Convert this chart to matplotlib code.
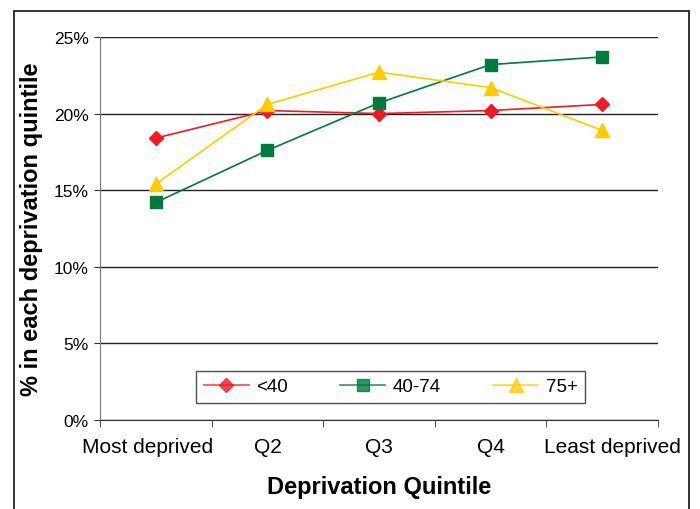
import matplotlib
matplotlib.use('Agg')
import matplotlib.pyplot as plt
import matplotlib.transforms as mtransforms
from matplotlib.patches import Rectangle
from matplotlib.ticker import FuncFormatter, FixedLocator

plt.rcParams['font.family'] = ['Liberation Sans', 'DejaVu Sans']

quintiles = ['Most deprived', 'Q2', 'Q3', 'Q4', 'Least deprived']
under40 = [18.4, 20.2, 20.0, 20.2, 20.6]
age40_74 = [14.2, 17.6, 20.7, 23.2, 23.7]
age75plus = [15.4, 20.6, 22.7, 21.7, 18.9]

fig = plt.figure(figsize=(7, 5.1), dpi=100)
ax = fig.add_axes([100 / 700, 89 / 510, 558 / 700, 383 / 510])

x = list(range(len(quintiles)))
ax.plot(x, under40, color='#ED1C24', lw=1.2, marker='D', ms=7, label='<40', clip_on=False)
ax.plot(x, age40_74, color='#007A3D', lw=1.2, marker='s', ms=9, label='40-74', clip_on=False)
ax.plot(x, age75plus, color='#FFCC00', lw=1.2, marker='^', ms=10, label='75+', clip_on=False)

ax.set_xlim(-0.5, 4.5)
ax.set_ylim(0, 25)
ax.set_yticks([0, 5, 10, 15, 20, 25])
ax.yaxis.set_major_formatter(FuncFormatter(lambda v, p: '%d%%' % v))
ax.yaxis.grid(True, color='#222222', lw=1)
ax.set_axisbelow(True)

ax.set_xticks(x)
ax.set_xticklabels(quintiles)
ax.xaxis.set_minor_locator(FixedLocator([-0.5, 0.5, 1.5, 2.5, 3.5, 4.5]))
ax.tick_params(axis='x', which='major', length=0, pad=12, labelsize=15)
ax.tick_params(axis='x', which='minor', length=5, color='#333333')
ax.tick_params(axis='y', length=4, color='#333333', labelsize=12.5, pad=4)

# end labels sit a little outwards in the original
labels = ax.get_xticklabels()
for lab, dx in [(labels[0], -8), (labels[-1], 10)]:
    lab.set_transform(lab.get_transform() + mtransforms.ScaledTranslation(dx / 100, 0, fig.dpi_scale_trans))

for s in ['top', 'right']:
    ax.spines[s].set_visible(False)
ax.spines['left'].set_color('#777777')
ax.spines['bottom'].set_color('#333333')

ax.set_xlabel('Deprivation Quintile', fontsize=17, fontweight='bold', labelpad=14)
ax.set_ylabel('% in each deprivation quintile', fontsize=17, fontweight='bold')
ax.yaxis.set_label_coords(-57 / 558, 0.5)

leg = ax.legend(loc='lower left', bbox_to_anchor=(96 / 558, 17 / 383, 389 / 558, 38 / 383),
                mode='expand', ncol=3, frameon=True, fancybox=False, fontsize=13.5,
                handlelength=2.4, handletextpad=0.4, borderaxespad=0, edgecolor='#222222')
leg.get_frame().set_linewidth(1)
for h in leg.get_lines():
    h.set_alpha(0.8)

fig.patches.append(Rectangle((14 / 700, -0.05), 675 / 700, 1.05 - 12 / 510,
                             transform=fig.transFigure, fill=False,
                             edgecolor='#222222', lw=1.3))

fig.savefig('out.png', dpi=100)
